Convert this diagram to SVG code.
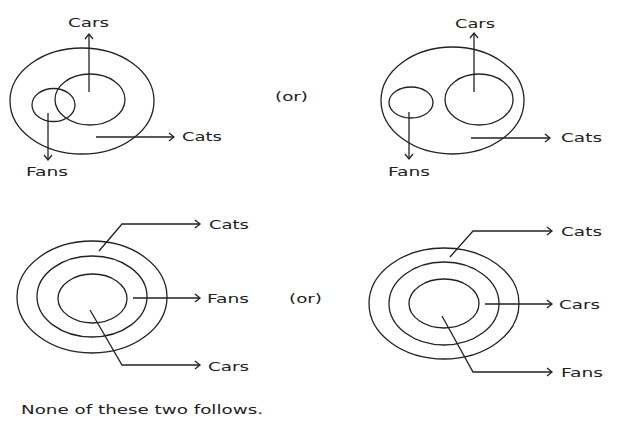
<svg xmlns="http://www.w3.org/2000/svg" width="632" height="425" viewBox="0 0 632 425">
<style>
.c{fill:none;stroke:#222;stroke-width:1.3}
.l{fill:none;stroke:#222;stroke-width:1.3;marker-end:url(#ah)}
.t{font-family:"DejaVu Sans","Liberation Sans",sans-serif;font-size:12.5px;fill:#222}
</style>
<defs>
<marker id="ah" markerUnits="userSpaceOnUse" markerWidth="10" markerHeight="12" refX="6" refY="5" orient="auto" viewBox="0 0 10 10">
<path d="M1,1 L6,5 L1,9" fill="none" stroke="#222" stroke-width="1.3"/>
</marker>
</defs>
<rect width="632" height="425" fill="#fff"/>

<g id="d1">
<ellipse class="c" cx="82" cy="101" rx="72" ry="53"/>
<ellipse class="c" cx="90" cy="99.5" rx="35" ry="25.5"/>
<ellipse class="c" cx="53.5" cy="105" rx="21.5" ry="16.5"/>
<text class="t" x="68" y="27" textLength="41" lengthAdjust="spacingAndGlyphs">Cars</text>
<text class="t" x="182" y="141" textLength="40" lengthAdjust="spacingAndGlyphs">Cats</text>
<text class="t" x="26" y="176" textLength="42" lengthAdjust="spacingAndGlyphs">Fans</text>
</g>
<g id="or1"><text class="t" x="275" y="101" textLength="33" lengthAdjust="spacingAndGlyphs">(or)</text></g>

<g id="d2">
<ellipse class="c" cx="452.5" cy="100.5" rx="71.5" ry="53.5"/>
<ellipse class="c" cx="411" cy="102.5" rx="22" ry="15.5"/>
<ellipse class="c" cx="479" cy="99.5" rx="34" ry="25.5"/>
<text class="t" x="455" y="28" textLength="40" lengthAdjust="spacingAndGlyphs">Cars</text>
<text class="t" x="561" y="142" textLength="41" lengthAdjust="spacingAndGlyphs">Cats</text>
<text class="t" x="388" y="176" textLength="42" lengthAdjust="spacingAndGlyphs">Fans</text>
</g>

<g id="d3">
<ellipse class="c" cx="92" cy="297" rx="75" ry="56"/>
<ellipse class="c" cx="92" cy="296.5" rx="55" ry="40.5"/>
<ellipse class="c" cx="92.5" cy="298.5" rx="34.5" ry="24.5"/>
<text class="t" x="209" y="229" textLength="40" lengthAdjust="spacingAndGlyphs">Cats</text>
<text class="t" x="207" y="303" textLength="42" lengthAdjust="spacingAndGlyphs">Fans</text>
<text class="t" x="208" y="371" textLength="41" lengthAdjust="spacingAndGlyphs">Cars</text>
</g>
<g id="or2"><text class="t" x="289" y="303" textLength="33" lengthAdjust="spacingAndGlyphs">(or)</text></g>

<g id="d4">
<ellipse class="c" cx="444" cy="303.5" rx="75" ry="55.5"/>
<ellipse class="c" cx="444" cy="303.5" rx="55" ry="41.5"/>
<ellipse class="c" cx="444" cy="303.5" rx="35" ry="24.5"/>
<text class="t" x="561" y="236" textLength="41" lengthAdjust="spacingAndGlyphs">Cats</text>
<text class="t" x="559" y="309" textLength="41" lengthAdjust="spacingAndGlyphs">Cars</text>
<text class="t" x="561" y="377" textLength="42" lengthAdjust="spacingAndGlyphs">Fans</text>
</g>

<g id="connectors">
<path class="l" d="M89,92 L89,34"/>
<path class="l" d="M48,113 L48,160"/>
<path class="l" d="M96,137 L174,137"/>
<path class="l" d="M474,92 L474,33"/>
<path class="l" d="M409,112 L409,159"/>
<path class="l" d="M471,138 L550,138"/>
<path class="l" d="M99,251 L122,224 L200,224"/>
<path class="l" d="M133,298 L200,298"/>
<path class="l" d="M90,310 L122,365 L200,365"/>
<path class="l" d="M450,257 L473,231 L552,231"/>
<path class="l" d="M485,304 L552,304"/>
<path class="l" d="M442,316 L473,372 L552,372"/>
</g>

<g id="footer"><text class="t" x="21" y="414" textLength="242" lengthAdjust="spacingAndGlyphs">None of these two follows.</text></g>
</svg>
